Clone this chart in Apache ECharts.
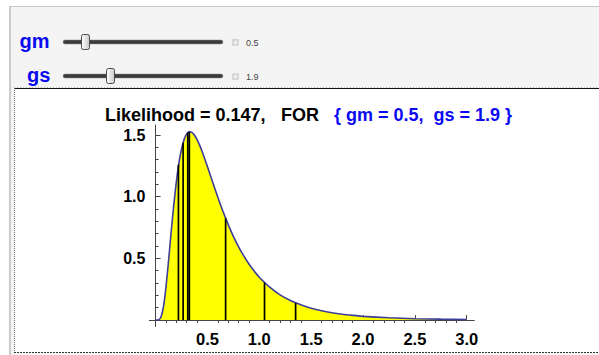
<!DOCTYPE html>
<html>
<head>
<meta charset="utf-8">
<script src="https://cdn.jsdelivr.net/npm/echarts@6/dist/echarts.min.js"></script>
<style>
  html, body { margin: 0; padding: 0; background: #fff; }
  #main { width: 599px; height: 355px; }
</style>
</head>
<body>
<div id="main"></div>
<script>
// density curve
var curveX = [0, 0.025, 0.05, 0.075, 0.1, 0.125, 0.15, 0.175, 0.2, 0.225, 0.25, 0.275, 0.3, 0.325, 0.35, 0.375, 0.4, 0.425, 0.45, 0.475, 0.5,
    0.55, 0.6, 0.65, 0.7, 0.75, 0.8, 0.85, 0.9, 0.95, 1.0, 1.1, 1.2, 1.3, 1.4, 1.5, 1.6, 1.7, 1.8, 1.9, 2.0, 2.25, 2.5, 2.75, 3.0];
var curveY = [0, 0.0005, 0.020, 0.105, 0.268, 0.483, 0.714, 0.932, 1.122, 1.274, 1.388, 1.465, 1.510, 1.527, 1.522, 1.499, 1.463, 1.416, 1.363, 1.304, 1.243,
    1.118, 0.995, 0.880, 0.774, 0.679, 0.594, 0.520, 0.454, 0.397, 0.347, 0.266, 0.204, 0.158, 0.123, 0.096, 0.075, 0.059, 0.047, 0.038, 0.030, 0.018, 0.011, 0.007, 0.004];

// observed points (vertical lines) and their heights
var pointX = [0.22, 0.265, 0.31, 0.325, 0.675, 1.05, 1.35];
var pointH = [1.26, 1.438, 1.519, 1.527, 0.825, 0.304, 0.139];

var xLabels = [0.5, 1.0, 1.5, 2.0, 2.5, 3.0];
var yLabels = [0.5, 1.0, 1.5];
var xMinor = [0.1, 0.2, 0.3, 0.4, 0.6, 0.7, 0.8, 0.9, 1.1, 1.2, 1.3, 1.4, 1.6, 1.7, 1.8, 1.9, 2.1, 2.2, 2.3, 2.4, 2.6, 2.7, 2.8, 2.9];
var yMinor = [0.1, 0.2, 0.3, 0.4, 0.6, 0.7, 0.8, 0.9, 1.1, 1.2, 1.3, 1.4];

var titleText = 'Likelihood = 0.147,';
var forText = 'FOR';
var paramText = '{ gm = 0.5,  gs = 1.9 }';
var sliders = [
    { name: 'gm', value: '0.5' },
    { name: 'gs', value: '1.9' }
];

var FONT = '"Liberation Sans", Arial, sans-serif';
var BLUE = '#0a0af0';

var chart = echarts.init(document.getElementById('main'), null, { renderer: 'svg' });

var curveData = curveX.map(function (x, i) { return [x, curveY[i]]; });
var pointData = pointX.map(function (x, i) { return [x, pointH[i]]; });

var axisCommon = {
    type: 'value',
    splitLine: { show: false },
    axisLine: { onZero: true, lineStyle: { color: '#444', width: 1 } }
};

// slider panel drawn as graphic
var graphics = [
    { type: 'rect', z: -10, shape: { x: 10, y: 6, width: 600, height: 360 }, style: { fill: '#f4f4f4' } },
    { type: 'line', z: -9, shape: { x1: 10, y1: 6.5, x2: 600, y2: 6.5 }, style: { stroke: '#c8c8c8', lineWidth: 1 } },
    { type: 'line', z: -9, shape: { x1: 10, y1: 6, x2: 10, y2: 355 }, style: { stroke: '#bdbdbd', lineWidth: 1.5 } },
    { type: 'rect', z: -8, shape: { x: 14, y: 88, width: 590, height: 265 }, style: { fill: '#fff' } },
    { type: 'line', z: -7, shape: { x1: 14, y1: 88.5, x2: 600, y2: 88.5 }, style: { stroke: '#111', lineWidth: 1 } },
    { type: 'line', z: -7, shape: { x1: 14.5, y1: 88, x2: 14.5, y2: 353 }, style: { stroke: '#666', lineWidth: 1, lineDash: [1, 1] } },
    { type: 'line', z: -7, shape: { x1: 14, y1: 352.5, x2: 600, y2: 352.5 }, style: { stroke: '#333', lineWidth: 1, lineDash: [2, 1] } },
    { type: 'line', z: -7, shape: { x1: 14, y1: 87.5, x2: 600, y2: 87.5 }, style: { stroke: '#bbb', lineWidth: 1, lineDash: [1, 2] } }
];
var thumbX = [81.5, 106.5];
var rowY = [42, 76];
var labelX = [19.5, 27];
sliders.forEach(function (s, i) {
    var y = rowY[i];
    graphics.push(
        { type: 'text', z: -5, style: { x: labelX[i], y: y - 1, text: s.name, fill: BLUE, font: 'bold 20px ' + FONT, verticalAlign: 'middle' } },
        { type: 'rect', z: -5, shape: { x: 63, y: y - 2, width: 160, height: 4, r: 2 }, style: { fill: '#3b3b3b', stroke: '#8a8a8a', lineWidth: 0.5 } },
        { type: 'rect', z: -4, shape: { x: thumbX[i], y: y - 7.5, width: 8, height: 15, r: 2 },
          style: { fill: new echarts.graphic.LinearGradient(0, 0, 1, 0, [{ offset: 0, color: '#ffffff' }, { offset: 1, color: '#c9c9c9' }]), stroke: '#4a4a4a', lineWidth: 1 } },
        { type: 'rect', z: -5, shape: { x: 232.5, y: y - 2.5, width: 6, height: 6 }, style: { fill: '#d8d8d8', stroke: '#c4c4c4', lineWidth: 0.5 } },
        { type: 'line', z: -4, shape: { x1: 233.5, y1: y + 0.5, x2: 237.5, y2: y + 0.5 }, style: { stroke: '#f4f4f4', lineWidth: 1 } },
        { type: 'line', z: -4, shape: { x1: 235.5, y1: y - 1.5, x2: 235.5, y2: y + 2.5 }, style: { stroke: '#f4f4f4', lineWidth: 1 } },
        { type: 'text', z: -5, style: { x: 246, y: y + 0.5, text: s.value, fill: '#444', font: '9px ' + FONT, verticalAlign: 'middle' } }
    );
});

var titleStyle = { fontFamily: FONT, fontSize: 18, fontWeight: 'bold', color: '#000' };
var option = {
    backgroundColor: '#fff',
    animation: false,
    title: [
        { text: titleText, left: 105, top: 106, padding: 0, textStyle: titleStyle },
        { text: forText, left: 281, top: 106, padding: 0, textStyle: titleStyle },
        { text: paramText, left: 334, top: 106, padding: 0, textStyle: echarts.util.defaults({ color: BLUE }, titleStyle) }
    ],
    graphic: graphics,
    grid: { left: 149.4, top: 125.2, width: 324.6, height: 201 },
    xAxis: [
        echarts.util.merge({
            min: -0.06, max: 3.07,
            axisTick: { inside: true, length: 5, customValues: xLabels, lineStyle: { color: '#444' } },
            axisLabel: { customValues: xLabels, margin: 4, color: '#000', fontFamily: FONT, fontWeight: 'bold', fontSize: 16.5,
                formatter: function (v) { return v.toFixed(1); } }
        }, axisCommon, true),
        echarts.util.merge({
            min: -0.06, max: 3.07,
            axisTick: { inside: true, length: 3, customValues: xMinor, lineStyle: { color: '#444' } },
            axisLabel: { show: false }
        }, axisCommon, true)
    ],
    yAxis: [
        echarts.util.merge({
            min: -0.05, max: 1.58,
            axisTick: { inside: true, length: 5, customValues: yLabels, lineStyle: { color: '#444' } },
            axisLabel: { customValues: yLabels, margin: 4, color: '#000', fontFamily: FONT, fontWeight: 'bold', fontSize: 16,
                formatter: function (v) { return v.toFixed(1); } }
        }, axisCommon, true),
        echarts.util.merge({
            min: -0.05, max: 1.58, position: 'left',
            axisTick: { inside: true, length: 3, customValues: yMinor, lineStyle: { color: '#444' } },
            axisLabel: { show: false }
        }, axisCommon, true)
    ],
    series: [
        {
            type: 'line',
            data: curveData,
            smooth: 0.2,
            symbol: 'none',
            lineStyle: { color: '#3d3d9a', width: 1.6 },
            areaStyle: { color: '#ffff00', opacity: 1, origin: 0 },
            z: 3
        },
        {
            type: 'custom',
            data: pointData,
            renderItem: function (params, api) {
                var p0 = api.coord([api.value(0), 0]);
                var p1 = api.coord([api.value(0), api.value(1)]);
                return {
                    type: 'line',
                    shape: { x1: p0[0], y1: p0[1], x2: p1[0], y2: p1[1] },
                    style: { stroke: '#000', lineWidth: 1.7 }
                };
            },
            z: 4
        }
    ]
};
chart.setOption(option);
</script>
</body>
</html>
